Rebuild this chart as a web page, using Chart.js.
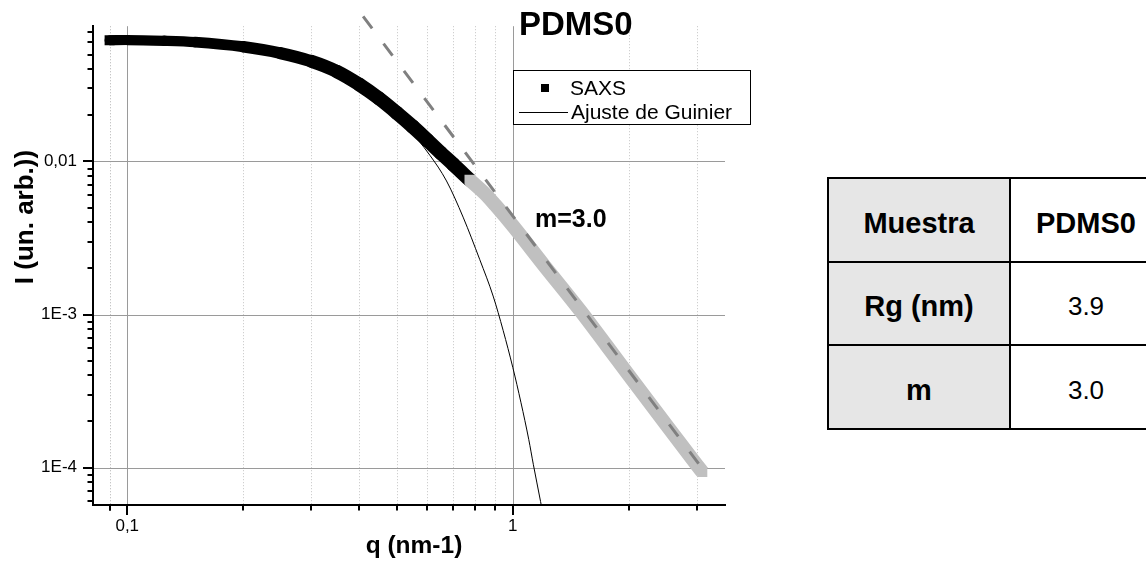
<!DOCTYPE html>
<html>
<head>
<meta charset="utf-8">
<script src="https://cdn.jsdelivr.net/npm/chart.js@4.4.1/dist/chart.umd.min.js"></script>
<style>
  html, body { margin: 0; padding: 0; background: #fff; }
  #wrap { position: relative; width: 1146px; height: 562px; overflow: hidden;
          font-family: "Liberation Sans", Arial, sans-serif; }
  #chart { position: absolute; left: 0; top: 0; }
  #params { position: absolute; left: 827px; top: 177px; display: grid;
            grid-template-columns: 180px 150px; grid-template-rows: 82px 81px 82px;
            gap: 2px; padding: 2px; background: #000; }
  #params div { display: flex; align-items: center; justify-content: center;
                background: #fff; font-size: 26px; color: #000; padding-top: 6px; box-sizing: border-box; }
  #params div.key { background: #e6e6e6; font-weight: bold; font-size: 29px; }
  #params div.head { font-weight: bold; font-size: 29px; }
</style>
</head>
<body>
<div id="wrap">
  <canvas id="chart" width="1146" height="562"></canvas>
  <div id="params"></div>
</div>
<script>
// SAXS curve, low-q part (black)
const qSaxs = [0.09, 0.1, 0.125, 0.15, 0.2, 0.25, 0.3, 0.35, 0.4, 0.45, 0.5, 0.55, 0.6, 0.65, 0.7, 0.772];
const iSaxs = [0.0620, 0.0622, 0.0615, 0.0603, 0.0562, 0.0510, 0.0452, 0.0387, 0.0318, 0.0258, 0.0208, 0.0169, 0.0138, 0.0114, 0.0096, 0.0076];

// SAXS curve, power-law region (grey)
const qTail = [0.772, 0.85, 0.9, 1.0, 1.2, 1.5, 1.75, 2.0, 2.5, 3.0, 3.1];
const iTail = [0.0076, 0.0061, 0.0052, 0.0038, 0.00212, 0.00105, 0.000627, 0.000400, 0.000190, 0.000104, 0.0000935];

// Guinier fit
const qGuinier = [0.09, 0.1, 0.15, 0.2, 0.25, 0.3, 0.35, 0.4, 0.45, 0.5, 0.53, 0.609, 0.673, 0.743, 0.821, 0.889, 0.944, 1.0, 1.05, 1.1, 1.13, 1.18, 1.2];
const iGuinier = [0.0615, 0.0612, 0.0587, 0.0548, 0.0496, 0.0441, 0.0377, 0.0310, 0.0245, 0.0193, 0.0169, 0.0110, 0.00746, 0.00433, 0.00228, 0.00132, 0.000785, 0.00045, 0.000265, 0.000152, 0.000105, 0.000060, 0.000048];

// power-law guide line
const qPower = [0.409, 3.165];
const iPower = [0.0887, 0.0000919];

const xTickValues = [0.1, 1];
const xTickLabels = ['0,1', '1'];
const yTickValues = [1e-4, 1e-3, 1e-2];
const yTickLabels = ['1E-4', '1E-3', '0,01'];

const sampleName = 'PDMS0';
const slopeLabel = 'm=3.0';
const xTitle = 'q (nm-1)';
const yTitle = 'I (un. arb.))';
const legendItems = ['SAXS', 'Ajuste de Guinier'];

const tableRows = [
  ['Muestra', 'PDMS0'],
  ['Rg (nm)', '3.9'],
  ['m', '3.0']
];

const FONT = '"Liberation Sans", Arial, sans-serif';
const markSide = 10;

const params = document.getElementById('params');
tableRows.forEach((row, r) => {
  row.forEach((cell, c) => {
    const d = document.createElement('div');
    d.textContent = cell;
    if (c === 0) d.className = 'key';
    else if (r === 0) d.className = 'head';
    params.appendChild(d);
  });
});

const toPoints = (xs, ys) => xs.map((x, i) => ({x, y: ys[i]}));

// a trail of square markers is wider across a diagonal than across a flat run
const squareTrail = ctx => {
  const dx = ctx.p1.x - ctx.p0.x, dy = ctx.p1.y - ctx.p0.y;
  const len = Math.hypot(dx, dy) || 1;
  return markSide * (Math.abs(dx) + Math.abs(dy)) / len;
};
const endSquares = ctx => (ctx.dataIndex === 0 || ctx.dataIndex === ctx.dataset.data.length - 1) ? markSide / Math.SQRT2 : 0;

function minorValues(scale) {
  const out = [];
  for (let e = -6; e <= 2; e++) {
    for (let m = 2; m <= 9; m++) {
      const v = m * Math.pow(10, e);
      if (v >= scale.min && v <= scale.max) out.push(v);
    }
  }
  if (scale.axis === 'x') {
    const v = 0.09;
    if (v >= scale.min) out.push(v);
  }
  return out;
}

const frame = {
  id: 'frame',
  beforeDraw(chart) {
    const {ctx, chartArea: a, scales: {x, y}} = chart;
    ctx.save();
    ctx.lineWidth = 1;
    ctx.strokeStyle = '#c4c4c4';
    ctx.setLineDash([1, 2]);
    minorValues(x).forEach(v => {
      const px = Math.round(x.getPixelForValue(v)) + 0.5;
      ctx.beginPath(); ctx.moveTo(px, a.top); ctx.lineTo(px, a.bottom); ctx.stroke();
    });
    ctx.setLineDash([]);
    ctx.strokeStyle = '#9a9a9a';
    xTickValues.forEach(v => {
      const px = Math.round(x.getPixelForValue(v)) + 0.5;
      ctx.beginPath(); ctx.moveTo(px, a.top); ctx.lineTo(px, a.bottom); ctx.stroke();
    });
    yTickValues.forEach(v => {
      const py = Math.round(y.getPixelForValue(v)) + 0.5;
      ctx.beginPath(); ctx.moveTo(a.left, py); ctx.lineTo(a.right, py); ctx.stroke();
    });
    ctx.restore();
  },
  afterDraw(chart) {
    const {ctx, chartArea: a, scales: {x, y}} = chart;
    ctx.save();

    // outward tick marks, long on decades
    ctx.strokeStyle = '#000';
    ctx.lineWidth = 2;
    const yMarks = yTickValues.map(v => [v, 9]).concat(minorValues(y).map(v => [v, 4.5]));
    yMarks.forEach(([v, len]) => {
      const py = Math.round(y.getPixelForValue(v));
      ctx.beginPath(); ctx.moveTo(a.left - 1, py); ctx.lineTo(a.left - 1 - len, py); ctx.stroke();
    });
    const xMarks = xTickValues.map(v => [v, 9]).concat(minorValues(x).map(v => [v, 4.5]));
    xMarks.forEach(([v, len]) => {
      const px = Math.round(x.getPixelForValue(v));
      ctx.beginPath(); ctx.moveTo(px, a.bottom + 1); ctx.lineTo(px, a.bottom + 1 + len); ctx.stroke();
    });

    ctx.fillStyle = '#000';
    ctx.textBaseline = 'alphabetic';

    // sample name and slope annotation
    ctx.textAlign = 'left';
    ctx.font = 'bold 33px ' + FONT;
    ctx.fillText(sampleName, 519, 35);
    ctx.font = 'bold 25px ' + FONT;
    ctx.fillText(slopeLabel, 535, 227);

    // axis titles
    ctx.font = 'bold 24.5px ' + FONT;
    ctx.textAlign = 'center';
    ctx.fillText(xTitle, 414, 553);
    ctx.font = 'bold 26px ' + FONT;
    ctx.save();
    ctx.translate(33, 217);
    ctx.rotate(-Math.PI / 2);
    ctx.fillText(yTitle, 0, 0);
    ctx.restore();

    // legend box
    ctx.fillStyle = '#fff';
    ctx.fillRect(513, 70, 237, 54);
    ctx.lineWidth = 1;
    ctx.strokeStyle = '#000';
    ctx.strokeRect(513.5, 70.5, 237, 54);
    ctx.fillStyle = '#000';
    ctx.fillRect(541, 84, 8, 8);
    ctx.beginPath(); ctx.moveTo(519, 112.5); ctx.lineTo(568, 112.5); ctx.stroke();
    ctx.font = '21px ' + FONT;
    ctx.textAlign = 'left';
    ctx.fillText(legendItems[0], 570, 94.5);
    ctx.fillText(legendItems[1], 571, 118.5);

    ctx.restore();
  }
};

new Chart(document.getElementById('chart'), {
  type: 'scatter',
  data: {
    datasets: [
      {
        data: toPoints(qPower, iPower),
        showLine: true,
        borderColor: '#808080',
        borderWidth: 3,
        borderDash: [15, 19],
        pointRadius: 0,
        clip: false,
        order: 0
      },
      {
        data: toPoints(qTail, iTail),
        showLine: true,
        borderColor: '#c0c0c0',
        borderWidth: 14,
        borderCapStyle: 'butt',
        borderJoinStyle: 'round',
        cubicInterpolationMode: 'monotone',
        pointStyle: 'rect',
        pointRadius: endSquares,
        pointBackgroundColor: '#c0c0c0',
        pointBorderWidth: 0,
        order: 1
      },
      {
        data: toPoints(qSaxs, iSaxs),
        showLine: true,
        borderColor: '#000',
        borderCapStyle: 'round',
        borderJoinStyle: 'round',
        cubicInterpolationMode: 'monotone',
        segment: {borderWidth: squareTrail},
        pointStyle: 'rect',
        pointRadius: endSquares,
        pointBackgroundColor: '#000',
        pointBorderWidth: 0,
        order: 2
      },
      {
        data: toPoints(qGuinier, iGuinier),
        showLine: true,
        borderColor: '#000',
        borderWidth: 1,
        cubicInterpolationMode: 'monotone',
        pointRadius: 0,
        order: 3
      }
    ]
  },
  options: {
    responsive: false,
    animation: false,
    devicePixelRatio: 1,
    events: [],
    layout: {padding: {top: 20, right: 421, left: 0, bottom: 0}},
    plugins: {legend: {display: false}, tooltip: {enabled: false}, title: {display: false}},
    scales: {
      x: {
        type: 'logarithmic',
        min: 0.0815,
        max: 3.55,
        grid: {display: false, drawTicks: false},
        border: {display: true, color: '#000', width: 2},
        ticks: {
          autoSkip: false,
          maxRotation: 0,
          padding: 11,
          color: '#000',
          font: {family: FONT, size: 17},
          callback: (v, i) => xTickLabels[i]
        },
        afterBuildTicks: s => { s.ticks = xTickValues.map(v => ({value: v})); },
        afterFit: s => { s.height = 57; }
      },
      y: {
        type: 'logarithmic',
        min: 0.0000569,
        max: 0.0766,
        grid: {display: false, drawTicks: false},
        border: {display: true, color: '#000', width: 2},
        ticks: {
          autoSkip: false,
          padding: 16,
          color: '#000',
          font: {family: FONT, size: 17},
          callback: (v, i) => yTickLabels[i]
        },
        afterBuildTicks: s => { s.ticks = yTickValues.map(v => ({value: v})); },
        afterFit: s => { s.width = 93; }
      }
    }
  },
  plugins: [frame]
});
</script>
</body>
</html>
